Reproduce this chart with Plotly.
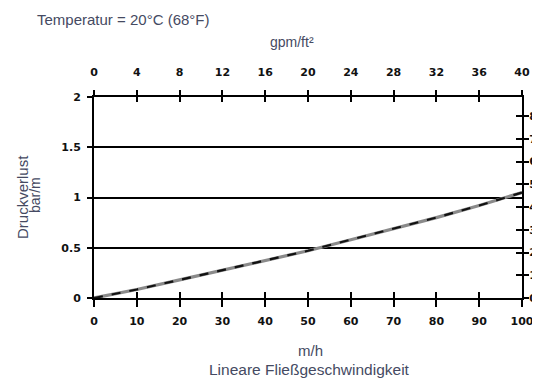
import plotly.graph_objects as go

# Data
velocity_mh = [0, 10, 20, 30, 40, 50, 60, 70, 80, 90, 100]
pressure_drop_bar_m = [0, 0.085, 0.18, 0.275, 0.37, 0.47, 0.58, 0.69, 0.80, 0.92, 1.05]

x_ticks = [0, 10, 20, 30, 40, 50, 60, 70, 80, 90, 100]
y_ticks = [0, 0.5, 1, 1.5, 2]
y_tick_labels = ["0", "0.5", "1", "1.5", "2"]
top_ticks = [0, 4, 8, 12, 16, 20, 24, 28, 32, 36, 40]
right_ticks = [0, 1, 2, 3, 4, 5, 6, 7, 8]

title_text = "Temperatur = 20°C (68°F)"
top_axis_title = "gpm/ft²"
left_title_1 = "Druckverlust"
left_title_2 = "bar/m"
bottom_title_1 = "m/h"
bottom_title_2 = "Lineare Fließgeschwindigkeit"

# page has an 8px body margin -> figure occupies 532x373
W, H = 532, 373
L, R, T, B = 86, 18, 89, 83
PW, PH = W - L - R, H - T - B
OFF = 8

TXT = "Liberation Sans, Arial, sans-serif"
TICKF = dict(family="DejaVu Sans, sans-serif", size=11, color="#111", weight="bold")
TCOL = "#454a62"


def px(xv):
    return (xv - OFF - L) / PW


def py(yv):
    return 1 - (yv - OFF - T) / PH


fig = go.Figure()
fig.add_trace(go.Scatter(x=velocity_mh, y=pressure_drop_bar_m, mode="lines",
                         line=dict(color="#8a8a8a", width=3.2), hoverinfo="skip", showlegend=False))
fig.add_trace(go.Scatter(x=velocity_mh, y=pressure_drop_bar_m, mode="lines",
                         line=dict(color="#111111", width=2.2, dash="dash"), hoverinfo="skip", showlegend=False))
# traces to activate secondary axes
fig.add_trace(go.Scatter(x=[None], y=[None], xaxis="x2", yaxis="y", showlegend=False, hoverinfo="skip"))
fig.add_trace(go.Scatter(x=[None], y=[None], xaxis="x", yaxis="y2", showlegend=False, hoverinfo="skip"))
fig.add_trace(go.Scatter(x=[None], y=[None], xaxis="x3", yaxis="y", showlegend=False, hoverinfo="skip"))
fig.add_trace(go.Scatter(x=[None], y=[None], xaxis="x4", yaxis="y", showlegend=False, hoverinfo="skip"))
fig.add_trace(go.Scatter(x=[None], y=[None], xaxis="x", yaxis="y3", showlegend=False, hoverinfo="skip"))

common_tick = dict(tickwidth=2, tickcolor="black", showgrid=False, zeroline=False)

fig.update_layout(
    width=W, height=H,
    margin=dict(l=L, r=R, t=T, b=B, autoexpand=False),
    paper_bgcolor="white", plot_bgcolor="white",
    xaxis=dict(range=[0, 100], tickvals=x_ticks, showline=True, linecolor="black", linewidth=2,
               ticks="outside", ticklen=7, tickfont=TICKF, ticklabelstandoff=5,
               ticklabeloverflow="allow", **common_tick),
    xaxis2=dict(range=[0, 40], tickvals=top_ticks, overlaying="x", side="top", showline=True,
                linecolor="black", linewidth=2, ticks="outside", ticklen=5, tickfont=TICKF,
                ticklabelstandoff=10, ticklabeloverflow="allow", **common_tick),
    xaxis3=dict(range=[0, 100], tickvals=x_ticks, overlaying="x", side="bottom", showline=False,
                ticks="inside", ticklen=6, showticklabels=False, **common_tick),
    xaxis4=dict(range=[0, 40], tickvals=top_ticks, overlaying="x", side="top", showline=False,
                ticks="inside", ticklen=5, showticklabels=False, **common_tick),
    yaxis=dict(range=[0, 2], tickvals=y_ticks, ticktext=y_tick_labels, showgrid=True,
               gridcolor="black", gridwidth=2, zeroline=False, showline=True, linecolor="black",
               linewidth=2, ticks="outside", ticklen=5, tickwidth=2, tickcolor="black",
               tickfont=TICKF, ticklabelstandoff=4),
    yaxis2=dict(range=[0, 8.84], tickvals=right_ticks, overlaying="y", side="right",
                showline=True, linecolor="black", linewidth=2, ticks="outside", ticklen=5,
                tickfont=TICKF, ticklabelstandoff=-2, ticklabeloverflow="allow", **common_tick),
    yaxis3=dict(range=[0, 8.84], tickvals=right_ticks, overlaying="y", side="right",
                showline=False, ticks="inside", ticklen=6, showticklabels=False, **common_tick),
    annotations=[
        dict(text=title_text, x=px(35), y=py(19), xref="paper", yref="paper", showarrow=False,
             xanchor="left", yanchor="middle", font=dict(family=TXT, size=15, color=TCOL)),
        dict(text=top_axis_title, x=px(292), y=py(42), xref="paper", yref="paper", showarrow=False,
             xanchor="center", yanchor="middle", font=dict(family=TXT, size=14, color=TCOL)),
        dict(text=left_title_1, x=px(22), y=py(197), xref="paper", yref="paper", showarrow=False,
             xanchor="center", yanchor="middle", textangle=-90,
             font=dict(family=TXT, size=15, color=TCOL)),
        dict(text=left_title_2, x=px(35), y=py(195), xref="paper", yref="paper", showarrow=False,
             xanchor="center", yanchor="middle", textangle=-90,
             font=dict(family=TXT, size=14, color=TCOL)),
        dict(text=bottom_title_1, x=px(310), y=py(350), xref="paper", yref="paper", showarrow=False,
             xanchor="center", yanchor="middle", font=dict(family=TXT, size=15, color=TCOL)),
        dict(text=bottom_title_2, x=px(309), y=py(369), xref="paper", yref="paper", showarrow=False,
             xanchor="center", yanchor="middle", font=dict(family=TXT, size=15.5, color=TCOL)),
    ],
)

fig.write_html("out.html")
